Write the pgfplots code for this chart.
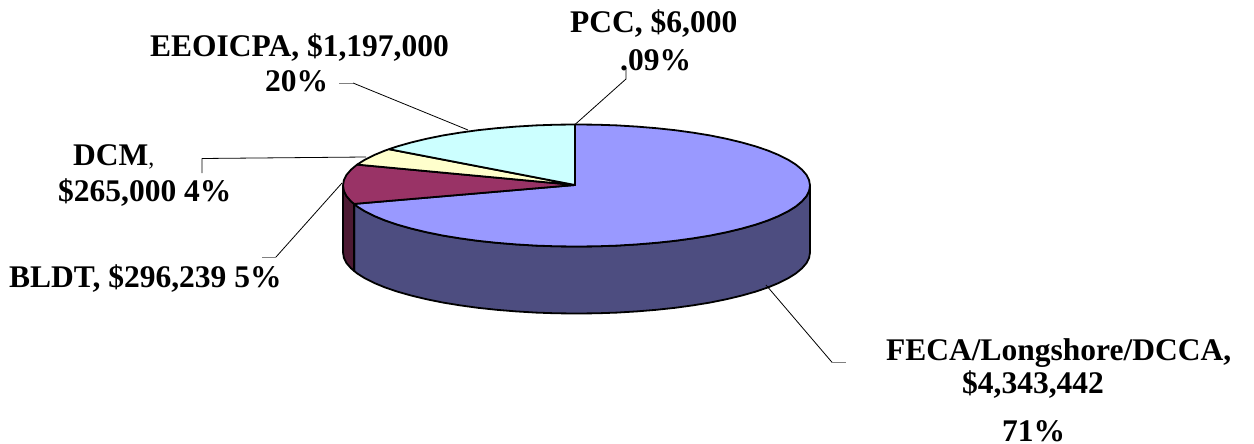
\documentclass[border=0pt]{standalone}
\usepackage{pgfplots}
\pgfplotsset{compat=1.18}
\usepackage{fontspec}
\setmainfont{Liberation Serif}
\definecolor{feca}{HTML}{9999FF}
\definecolor{fecaside}{HTML}{4D4D80}
\definecolor{bldt}{HTML}{993366}
\definecolor{bldtside}{HTML}{4D1A33}
\definecolor{dcm}{HTML}{FFFFCC}
\definecolor{eeoicpa}{HTML}{CCFFFF}
\definecolor{stub}{HTML}{808080}
\newcommand{\lab}[3]{\node[anchor=base west,inner sep=0pt,font=\fontsize{31.5}{34}\selectfont\bfseries] at (axis cs:#1,#2) {#3};}
\begin{document}
\begin{tikzpicture}
\path[use as bounding box] (0,0) rectangle (1254pt,444pt);
\begin{axis}[
  scale only axis, width=1254pt, height=444pt,
  xmin=0, xmax=1254, ymin=0, ymax=444, y dir=reverse,
  axis lines=none, clip=false,
  every axis plot/.append style={line join=round},
]
% Rim of the large slice
\addplot[fill=fecaside,draw=black,line width=1.8pt] coordinates {
(810,185.5)(809.1,190.8)(806.5,196.1)(802,201.3)(795.9,206.4)(788.1,211.3)(778.7,216)(767.8,220.5)(755.4,224.7)(741.6,228.6)(726.6,232.2)(710.4,235.5)(693.3,238.3)(675.2,240.8)(656.4,242.8)(636.9,244.4)(617,245.6)(596.9,246.3)(576.5,246.5)(556.1,246.3)(536,245.6)(516.1,244.4)(496.6,242.8)(477.8,240.8)(459.7,238.3)(442.6,235.5)(426.4,232.2)(411.4,228.6)(397.6,224.7)(385.2,220.5)(374.3,216)(364.9,211.3)(357.1,206.4)(354.1,203.9)
(354.1,270.9)(357.1,273.4)(364.9,278.3)(374.3,283)(385.2,287.5)(397.6,291.7)(411.4,295.6)(426.4,299.2)(442.6,302.5)(459.7,305.3)(477.8,307.8)(496.6,309.8)(516.1,311.4)(536,312.6)(556.1,313.3)(576.5,313.5)(596.9,313.3)(617,312.6)(636.9,311.4)(656.4,309.8)(675.2,307.8)(693.3,305.3)(710.4,302.5)(726.6,299.2)(741.6,295.6)(755.4,291.7)(767.8,287.5)(778.7,283)(788.1,278.3)(795.9,273.4)(802,268.3)(806.5,263.1)(809.1,257.8)(810,252.5)
} -- cycle;
% Rim of the BLDT slice
\addplot[fill=bldtside,draw=black,line width=1.8pt] coordinates {
(354.1,203.9)(351,201.3)(346.5,196.1)(343.9,190.8)(343,185.5)(343,252.5)(343.9,257.8)(346.5,263.1)(351,268.3)(354.1,270.9)
} -- cycle;
% Top faces
\addplot[fill=feca,draw=black,line width=1.8pt] coordinates {
(575,185)(575,124.5)(576.5,124.5)(596.9,124.7)(617,125.4)(636.9,126.6)(656.4,128.2)(675.2,130.2)(693.3,132.7)(710.4,135.5)(726.6,138.8)(741.6,142.4)(755.4,146.3)(767.8,150.5)(778.7,155)(788.1,159.7)(795.9,164.6)(802,169.7)(806.5,174.9)(809.1,180.2)(810,185.5)(809.1,190.8)(806.5,196.1)(802,201.3)(795.9,206.4)(788.1,211.3)(778.7,216)(767.8,220.5)(755.4,224.7)(741.6,228.6)(726.6,232.2)(710.4,235.5)(693.3,238.3)(675.2,240.8)(656.4,242.8)(636.9,244.4)(617,245.6)(596.9,246.3)(576.5,246.5)(556.1,246.3)(536,245.6)(516.1,244.4)(496.6,242.8)(477.8,240.8)(459.7,238.3)(442.6,235.5)(426.4,232.2)(411.4,228.6)(397.6,224.7)(385.2,220.5)(374.3,216)(364.9,211.3)(357.1,206.4)(354.1,203.9)
} -- cycle;
\addplot[fill=bldt,draw=black,line width=1.8pt] coordinates {
(575,185)(354.1,203.9)(351,201.3)(346.5,196.1)(343.9,190.8)(343,185.5)(343.9,180.2)(346.5,174.9)(351,169.7)(357.1,164.6)
} -- cycle;
\addplot[fill=dcm,draw=black,line width=1.8pt] coordinates {
(575,185)(357.1,164.6)(364.9,159.7)(374.3,155)(385.2,150.5)(389,149.2)
} -- cycle;
\addplot[fill=eeoicpa,draw=black,line width=1.8pt] coordinates {
(575,185)(389,149.2)(397.6,146.3)(411.4,142.4)(426.4,138.8)(442.6,135.5)(459.7,132.7)(477.8,130.2)(496.6,128.2)(516.1,126.6)(536,125.4)(556.1,124.7)(575,124.5)
} -- cycle;
% Leader lines
\addplot[black,line width=0.8pt] coordinates {(575,124.5)(626,79)(626,68)};
\addplot[black,line width=0.8pt] coordinates {(353,83)(468,130)};
\addplot[stub,line width=0.8pt] coordinates {(339,83)(353,83)};
\addplot[black,line width=0.8pt] coordinates {(202,173)(202,158.5)(366,157)};
\addplot[black,line width=0.8pt] coordinates {(276,257)(342,183)};
\addplot[stub,line width=0.8pt] coordinates {(262,257)(276,257)};
\addplot[black,line width=0.8pt] coordinates {(766,285)(832,362.3)};
\addplot[stub,line width=0.8pt] coordinates {(832,362.3)(846,362.3)};
% Labels
\lab{570}{33}{PCC, \$6,000}
\lab{620}{71}{.09\%}
\lab{150}{57}{EEOICPA, \$1,197,000}
\lab{265}{92}{20\%}
\lab{73}{165}{DCM{\mdseries\fontsize{24}{26}\selectfont,}}
\lab{58}{201}{\$265,000 4\%}
\lab{9}{287}{BLDT, \$296,239 5\%}
\lab{886}{360}{FECA/Longshore/DCCA,}
\lab{962}{393}{\$4,343,442}
\lab{1002}{441}{71\%}
\end{axis}
\end{tikzpicture}
\end{document}
